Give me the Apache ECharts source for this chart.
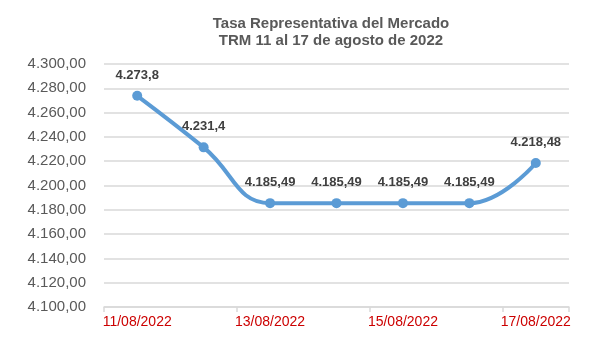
<!DOCTYPE html>
<html>
<head>
<meta charset="utf-8">
<script src="https://cdn.jsdelivr.net/npm/echarts@6/dist/echarts.min.js"></script>
<style>
  html, body { margin: 0; padding: 0; background: #fff; }
  #chart { width: 601px; height: 338px; }
</style>
</head>
<body>
<div id="chart"></div>
<script>
// datos
const fechas = ['11/08/2022', '12/08/2022', '13/08/2022', '14/08/2022', '15/08/2022', '16/08/2022', '17/08/2022'];
const trm = [4273.8, 4231.4, 4185.49, 4185.49, 4185.49, 4185.49, 4218.48];
const titulo = ['Tasa Representativa del Mercado', 'TRM 11 al 17 de agosto de 2022'];

// formato colombiano: punto de miles, coma decimal
function formatoCO(str) {
    const partes = str.split('.');
    const entero = partes[0].replace(/\B(?=(\d{3})+(?!\d))/g, '.');
    return partes.length > 1 ? entero + ',' + partes[1] : entero;
}

const fuente = 'Liberation Sans, Arial, sans-serif';
const chart = echarts.init(document.getElementById('chart'));

const option = {
    backgroundColor: '#fff',
    animation: false,
    title: {
        text: titulo.join('\n'),
        left: 326,
        textAlign: 'center',
        top: 10,
        textStyle: {
            fontFamily: fuente,
            fontSize: 15,
            fontWeight: 'bold',
            color: '#595959',
            lineHeight: 17
        }
    },
    grid: {
        left: 104,
        right: 32,
        top: 64,
        bottom: 31
    },
    xAxis: {
        type: 'category',
        data: fechas,
        boundaryGap: true,
        axisLine: { lineStyle: { color: '#D9D9D9', width: 1.5 } },
        axisTick: { show: true, interval: 1, length: 5, lineStyle: { color: '#D9D9D9', width: 1.5 } },
        axisLabel: {
            interval: 1,
            color: '#CC0000',
            fontFamily: fuente,
            fontSize: 14,
            margin: 8
        }
    },
    yAxis: {
        type: 'value',
        min: 4100,
        max: 4300,
        interval: 20,
        axisLine: { show: false },
        axisTick: { show: false },
        splitLine: { lineStyle: { color: '#D9D9D9', width: 1.5 } },
        axisLabel: {
            color: '#595959',
            fontFamily: fuente,
            fontSize: 15,
            margin: 18,
            formatter: v => formatoCO(v.toFixed(2))
        }
    },
    series: [
        {
            type: 'line',
            data: trm,
            smooth: 0.45,
            symbol: 'circle',
            symbolSize: 10,
            lineStyle: { color: '#5B9BD5', width: 4 },
            itemStyle: { color: '#5B9BD5' },
            label: {
                show: true,
                position: 'top',
                distance: 9,
                color: '#404040',
                fontFamily: fuente,
                fontSize: 13,
                fontWeight: 'bold',
                formatter: p => formatoCO(String(p.value))
            }
        }
    ]
};

chart.setOption(option);
</script>
</body>
</html>
